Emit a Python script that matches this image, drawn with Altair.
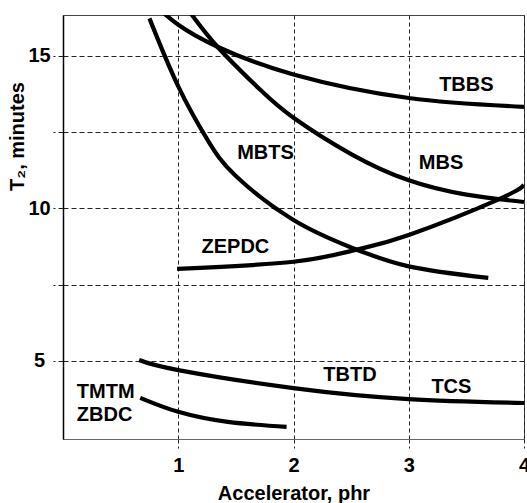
import altair as alt
import pandas as pd

# Cure time T2 (minutes) versus accelerator level (phr) for each accelerator system
tbbs_x = [0.80, 1.0, 1.34, 2.0, 3.0, 4.0]
tbbs_y = [16.65, 16.02, 15.30, 14.39, 13.62, 13.33]

mbs_x = [1.08, 1.34, 1.7, 2.0, 2.5, 3.0, 3.5, 4.0]
mbs_y = [16.54, 15.30, 13.93, 12.97, 11.78, 10.92, 10.45, 10.21]

mbts_x = [0.75, 1.0, 1.25, 1.5, 2.0, 2.5, 3.0, 3.69]
mbts_y = [16.23, 14.0, 12.27, 11.06, 9.62, 8.72, 8.10, 7.72]

zepdc_x = [0.99, 2.0, 2.54, 3.0, 3.77, 4.0]
zepdc_y = [8.02, 8.25, 8.64, 9.13, 10.28, 10.77]

tbtd_x = [0.66, 1.0, 2.0, 3.0, 4.0]
tbtd_y = [5.03, 4.70, 4.11, 3.75, 3.62]

tmtm_x = [0.67, 1.0, 1.43, 1.94]
tmtm_y = [3.79, 3.33, 3.00, 2.84]

# Curve labels
label_text = ["TBBS", "MBS", "MBTS", "ZEPDC", "TBTD", "TCS", "TMTM", "ZBDC"]
label_x = [3.50, 3.28, 1.757, 1.496, 2.49, 3.37, 0.12, 0.12]
label_y = [14.05, 11.49, 11.82, 8.74, 4.54, 4.15, 3.98, 3.23]
label_align = ["center", "center", "center", "center", "center", "center", "left", "left"]

x_ticks = [1, 2, 3, 4]
y_ticks = [5, 7.5, 10, 12.5, 15]

curves = [
    ("TBBS", tbbs_x, tbbs_y),
    ("MBS", mbs_x, mbs_y),
    ("MBTS", mbts_x, mbts_y),
    ("ZEPDC", zepdc_x, zepdc_y),
    ("TBTD", tbtd_x, tbtd_y),
    ("TMTM", tmtm_x, tmtm_y),
]
rows = []
for name, xs, ys in curves:
    for i, (xv, yv) in enumerate(zip(xs, ys)):
        rows.append({"curve": name, "order": i, "phr": xv, "t2": yv})
line_df = pd.DataFrame(rows)

label_df = pd.DataFrame({"text": label_text, "phr": label_x, "t2": label_y, "align": label_align})

FONT = "Liberation Sans"

x_scale = alt.Scale(domain=[0, 4], nice=False, zero=False)
y_scale = alt.Scale(domain=[2.44, 16.34], nice=False, zero=False)

x_axis = alt.Axis(
    values=x_ticks, format="d", grid=True, gridDash=[4, 3], gridColor="#222", gridOpacity=1,
    tickDash=[4, 3], tickColor="#222", tickSize=9, domainColor="#666",
    labelFont=FONT, labelFontSize=20, labelFontWeight="bold", labelColor="black",
    labelBaseline="alphabetic", labelPadding=23, labelFlush=False,
    title="Accelerator, phr", titleFont=FONT, titleFontSize=20, titleFontWeight="bold",
    titleColor="black", titleY=60, titleBaseline="alphabetic",
)
y_axis = alt.Axis(
    values=y_ticks, grid=True, gridDash=[5, 3], gridColor="#222", gridOpacity=1,
    tickDash=[5, 3], tickColor="#222", tickSize=10, domainColor="black", domainWidth=1.5,
    labelExpr="datum.value % 5 === 0 ? format(datum.value, 'd') : ''",
    labelFont=FONT, labelFontSize=20, labelFontWeight="bold", labelColor="black",
    labelAlign="center", labelPadding=14, labelFlush=False,
    title="T₂, minutes", titleFont=FONT, titleFontSize=20, titleFontWeight="bold",
    titleColor="black", titleAngle=270, titleX=-46, titleY=121,
    titleAlign="center", titleBaseline="middle",
)

lines = alt.Chart(line_df).mark_line(
    color="black", strokeWidth=4.2, interpolate="natural", clip=True
).encode(
    x=alt.X("phr:Q", scale=x_scale, axis=x_axis),
    y=alt.Y("t2:Q", scale=y_scale, axis=y_axis),
    detail="curve:N",
    order="order:Q",
)

def label_layer(align):
    return alt.Chart(label_df[label_df["align"] == align]).mark_text(
        font=FONT, fontSize=20, fontWeight="bold", color="black",
        align=align, baseline="middle",
    ).encode(
        x=alt.X("phr:Q", scale=x_scale),
        y=alt.Y("t2:Q", scale=y_scale),
        text="text:N",
    )

chart = alt.layer(lines, label_layer("center"), label_layer("left")).properties(
    width=461,
    height=424,
    padding={"left": 63, "top": 15, "right": 3, "bottom": 64},
    autosize=alt.AutoSizeParams(type="none"),
    background="white",
).configure_view(stroke="#444", strokeWidth=1)

chart.save("out.html", embed_options={"renderer": "svg", "actions": False})
